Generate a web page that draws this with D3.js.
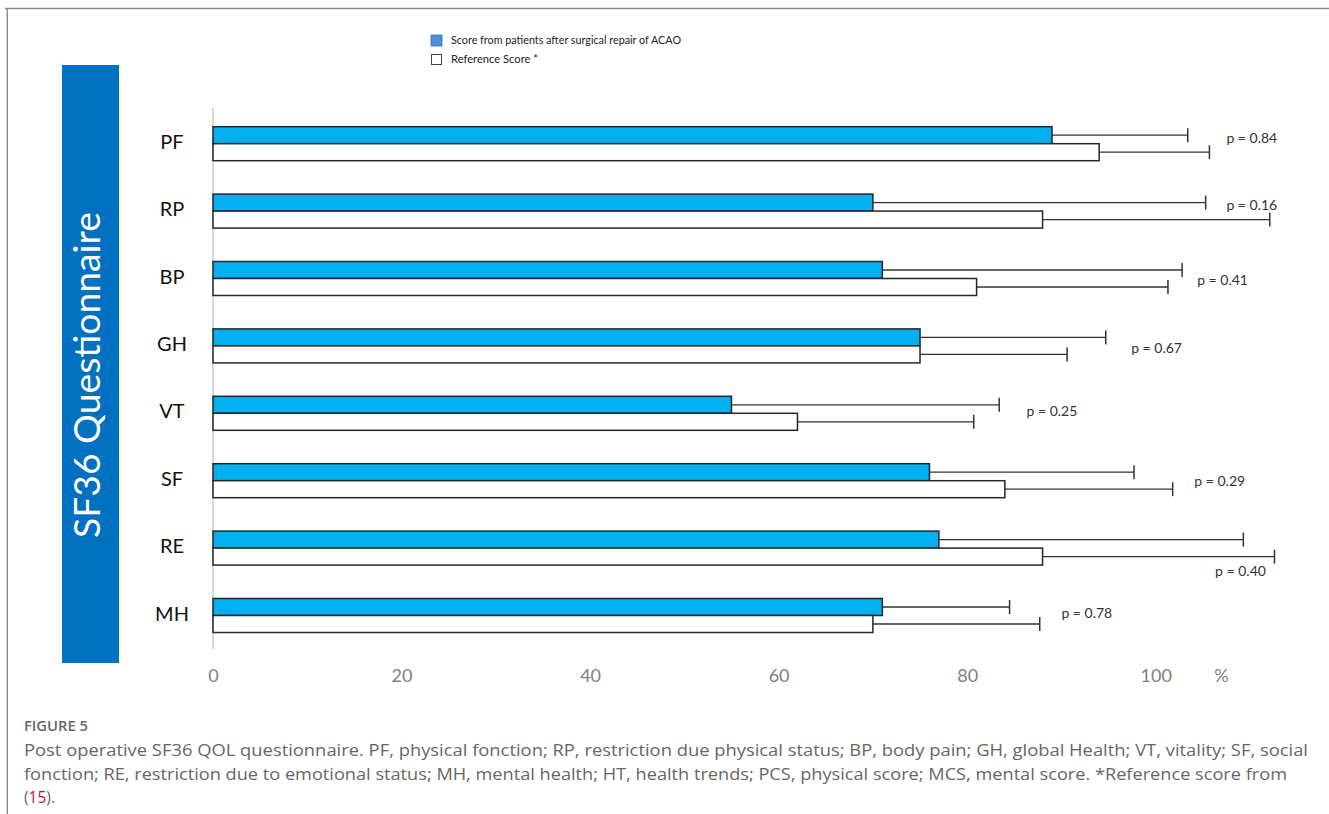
<!DOCTYPE html>
<html>
<head>
<meta charset="utf-8">
<script src="https://cdn.jsdelivr.net/npm/d3@7"></script>
<style>
  html, body { margin: 0; padding: 0; background: #ffffff; }
  svg { display: block; }
</style>
</head>
<body>
<svg id="chart" width="1329" height="814"></svg>
<script>
// ---- data ----
const categories = ["PF", "RP", "BP", "GH", "VT", "SF", "RE", "MH"];
const patientMean = [89, 70, 71, 75, 55, 76, 77, 71];
const patientSD = [14.4, 35.3, 31.8, 19.7, 28.4, 21.7, 32.3, 13.5];
const referenceMean = [94, 88, 81, 75, 62, 84, 88, 70];
const referenceSD = [11.7, 24.1, 20.3, 15.6, 18.7, 17.8, 24.6, 17.7];
const pValues = ["p = 0.84", "p = 0.16", "p = 0.41", "p = 0.67", "p = 0.25", "p = 0.29", "p = 0.40", "p = 0.78"];
const tickValues = [0, 20, 40, 60, 80, 100];
const seriesNames = ["Score from patients after surgical repair of ACAO", "Reference Score *"];
const panelTitle = "SF36 Questionnaire";
const figureLabel = "FIGURE 5";
const captionLine1 = "Post operative SF36 QOL questionnaire. PF, physical fonction; RP, restriction due physical status; BP, body pain; GH, global Health; VT, vitality; SF, social";
const captionLine2 = "fonction; RE, restriction due to emotional status; MH, mental health; HT, health trends; PCS, physical score; MCS, mental score. *Reference score from";
const captionRef = "15";

// annotation placement for p-value labels (x in data units, y offset in px from row centre)
const pLabelX = [107.5, 107.5, 104.4, 97.4, 86.3, 104.1, 106.3, 90.0];
const pLabelDy = [-6, -6, 2, 2, -2, 0, 23, -2];

// ---- layout ----
const svg = d3.select("#chart");
const x = d3.scaleLinear().domain([0, 100]).range([213, 1155.7]);
const y = d3.scaleBand().domain(categories).range([110, 649.2]).padding(0);
const barH = 17;
const centre = c => y(c) + y.bandwidth() / 2;

// frame
svg.append("line").attr("x1", 5).attr("x2", 1329).attr("y1", 8.5).attr("y2", 8.5)
  .attr("stroke", "#8a8a8a").attr("stroke-width", 1.4);
svg.append("line").attr("x1", 7.3).attr("x2", 7.3).attr("y1", 8).attr("y2", 814)
  .attr("stroke", "#8a8a8a").attr("stroke-width", 1.4);

// blue side panel
svg.append("rect").attr("x", 62).attr("y", 65).attr("width", 57).attr("height", 598)
  .attr("fill", "#0070C0");
svg.append("text")
  .attr("transform", "translate(100,375) rotate(-90)")
  .attr("text-anchor", "middle")
  .attr("font-family", "Lato, 'Open Sans', sans-serif")
  .attr("font-size", 37)
  .attr("fill", "#ffffff")
  .attr("textLength", 326)
  .attr("lengthAdjust", "spacingAndGlyphs")
  .text(panelTitle);

// legend
const legend = svg.append("g").attr("font-family", "Lato, 'Open Sans', sans-serif");
legend.append("rect").attr("x", 431).attr("y", 35).attr("width", 11).attr("height", 11)
  .attr("fill", "#4F8FDB").attr("stroke", "#3E6FA8").attr("stroke-width", 0.8);
legend.append("rect").attr("x", 431.5).attr("y", 54.5).attr("width", 10).attr("height", 10)
  .attr("fill", "#ffffff").attr("stroke", "#444").attr("stroke-width", 1);
legend.append("text").attr("x", 451).attr("y", 40.5).attr("dy", "0.35em")
  .attr("font-size", 10.5).attr("fill", "#222")
  .attr("textLength", 230).attr("lengthAdjust", "spacingAndGlyphs")
  .text(seriesNames[0]);
legend.append("text").attr("x", 451).attr("y", 59.5).attr("dy", "0.35em")
  .attr("font-size", 10.5).attr("fill", "#222")
  .attr("textLength", 87).attr("lengthAdjust", "spacingAndGlyphs")
  .text(seriesNames[1]);

// vertical axis line
svg.append("line").attr("x1", x(0)).attr("x2", x(0))
  .attr("y1", 108).attr("y2", 649)
  .attr("stroke", "#d9d9d9").attr("stroke-width", 2);

// category labels
svg.append("g").selectAll("text").data(categories).join("text")
  .attr("x", 172)
  .attr("y", d => centre(d) - 2)
  .attr("dy", "0.35em")
  .attr("text-anchor", "middle")
  .attr("font-family", "Lato, 'Open Sans', sans-serif")
  .attr("font-size", 20)
  .attr("fill", "#111")
  .text(d => d);

// rows
const rows = categories.map((c, i) => ({
  c, i,
  pm: patientMean[i], ps: patientSD[i],
  rm: referenceMean[i], rs: referenceSD[i]
}));

const g = svg.append("g");

// error bars (drawn before bars so whisker starts at bar end)
function whisker(sel, meanKey, sdKey, yOff) {
  sel.append("line")
    .attr("x1", d => x(d[meanKey]))
    .attr("x2", d => x(d[meanKey] + d[sdKey]))
    .attr("y1", d => centre(d.c) + yOff)
    .attr("y2", d => centre(d.c) + yOff)
    .attr("stroke", "#333").attr("stroke-width", 1.3);
  sel.append("line")
    .attr("x1", d => x(d[meanKey] + d[sdKey]))
    .attr("x2", d => x(d[meanKey] + d[sdKey]))
    .attr("y1", d => centre(d.c) + yOff - 7)
    .attr("y2", d => centre(d.c) + yOff + 7)
    .attr("stroke", "#333").attr("stroke-width", 1.5);
}
const rowG = g.selectAll("g.row").data(rows).join("g").attr("class", "row");
whisker(rowG, "pm", "ps", -barH / 2);
whisker(rowG, "rm", "rs", barH / 2);

// patient bars
rowG.append("rect")
  .attr("x", x(0))
  .attr("y", d => centre(d.c) - barH)
  .attr("width", d => x(d.pm) - x(0))
  .attr("height", barH)
  .attr("fill", "#00B0F0")
  .attr("stroke", "#262626").attr("stroke-width", 1.5);

// reference bars
rowG.append("rect")
  .attr("x", x(0))
  .attr("y", d => centre(d.c))
  .attr("width", d => x(d.rm) - x(0))
  .attr("height", barH)
  .attr("fill", "#ffffff")
  .attr("stroke", "#262626").attr("stroke-width", 1.5);

// p-values
svg.append("g").selectAll("text").data(rows).join("text")
  .attr("x", d => x(pLabelX[d.i]))
  .attr("y", d => centre(d.c) + pLabelDy[d.i])
  .attr("dy", "0.35em")
  .attr("font-family", "Lato, 'Open Sans', sans-serif")
  .attr("font-size", 14)
  .attr("fill", "#333")
  .text(d => pValues[d.i]);

// x axis ticks
const axis = d3.axisBottom(x).tickValues(tickValues).tickSize(0).tickPadding(0);
const axG = svg.append("g").attr("transform", "translate(0,676)").call(axis);
axG.select(".domain").remove();
axG.selectAll("text")
  .attr("dy", "0.35em").attr("y", 0)
  .attr("font-family", "Lato, 'Open Sans', sans-serif")
  .attr("font-size", 18)
  .attr("fill", "#808080");
svg.append("text").attr("x", 1221.5).attr("y", 676).attr("dy", "0.35em")
  .attr("text-anchor", "middle")
  .attr("font-family", "Lato, 'Open Sans', sans-serif")
  .attr("font-size", 18).attr("fill", "#808080").text("%");

// caption
const cap = svg.append("g").attr("font-family", "'Open Sans', Lato, sans-serif").attr("fill", "#666");
cap.append("text").attr("x", 24).attr("y", 730.5)
  .attr("font-size", 14).attr("font-weight", 600)
  .attr("textLength", 64).attr("lengthAdjust", "spacingAndGlyphs")
  .text(figureLabel);
cap.append("text").attr("x", 24).attr("y", 755.5).attr("font-size", 15.5)
  .attr("textLength", 1284).attr("lengthAdjust", "spacingAndGlyphs")
  .text(captionLine1);
cap.append("text").attr("x", 24).attr("y", 780).attr("font-size", 15.5)
  .attr("textLength", 1263).attr("lengthAdjust", "spacingAndGlyphs")
  .text(captionLine2);
const l3 = cap.append("text").attr("x", 24).attr("y", 803).attr("font-size", 15.5);
l3.append("tspan").text("(");
l3.append("tspan").attr("fill", "#c8102e").text(captionRef);
l3.append("tspan").text(").");
</script>
</body>
</html>
